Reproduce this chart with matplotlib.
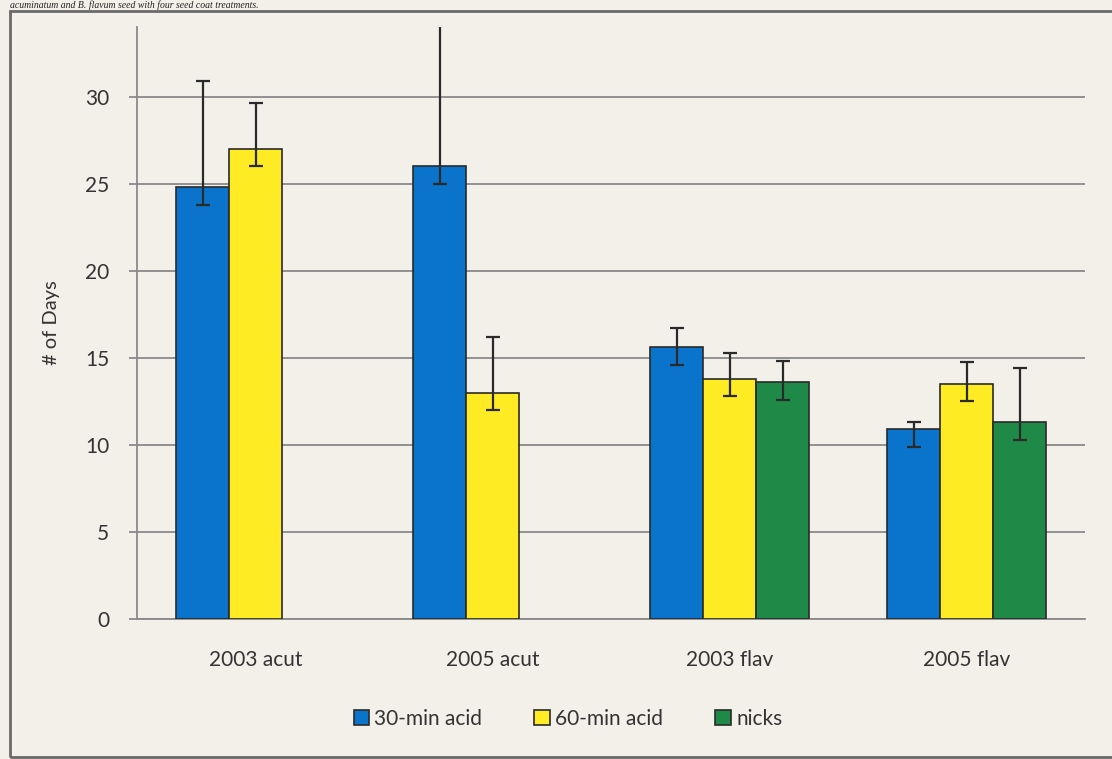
import numpy as np
from matplotlib import pyplot as plt
from matplotlib.patches import Rectangle

categories = ["2003 acut", "2005 acut", "2003 flav", "2005 flav"]
series_names = ["30-min acid", "60-min acid", "nicks"]

acid30 = [24.8, 26.0, 15.6, 10.9]
acid60 = [27.0, 13.0, 13.8, 13.5]
nicks = [np.nan, np.nan, 13.6, 11.3]

# asymmetric error bars (down, up)
acid30_err_lo = [1.0, 1.0, 1.0, 1.0]
acid30_err_hi = [6.1, 10.0, 1.1, 0.4]
acid60_err_lo = [1.0, 1.0, 1.0, 1.0]
acid60_err_hi = [2.65, 3.2, 1.5, 1.25]
nicks_err_lo = [np.nan, np.nan, 1.0, 1.0]
nicks_err_hi = [np.nan, np.nan, 1.2, 3.1]

y_ticks = [0, 5, 10, 15, 20, 25, 30]

BG = "#f3f0e9"
colors = ["#0a74cc", "#ffeb24", "#1f8a48"]
EDGE = "#2a2a2a"
GRID = "#8a8a8a"
TEXT = "#333333"

plt.rcParams["font.family"] = ["Lato", "DejaVu Sans"]

fig = plt.figure(figsize=(11.12, 7.59), dpi=100, facecolor=BG)
ax = fig.add_axes([137 / 1112, 140 / 759, (1085 - 137) / 1112, (619 - 27) / 759])
ax.set_facecolor(BG)

x = np.arange(len(categories))
width = 53 / 237
series = [
    (acid30, acid30_err_lo, acid30_err_hi),
    (acid60, acid60_err_lo, acid60_err_hi),
    (nicks, nicks_err_lo, nicks_err_hi),
]
for i, (vals, lo, hi) in enumerate(series):
    pos = x + (i - 1) * width
    ax.bar(pos, vals, width, color=colors[i], edgecolor=EDGE, linewidth=1.2,
           label=series_names[i], zorder=3)
    ax.errorbar(pos, vals, yerr=[lo, hi], fmt="none", ecolor=EDGE,
                elinewidth=1.6, capsize=5, capthick=1.6, zorder=4)

ax.set_xlim(-0.5, 3.5)
ax.set_ylim(0, 34)
ax.set_yticks(y_ticks)
ax.set_xticks(x)
ax.set_xticklabels(categories)
ax.grid(axis="y", color=GRID, linewidth=1.3, zorder=0)
for side in ["top", "right"]:
    ax.spines[side].set_visible(False)
ax.spines["left"].set_color(GRID)
ax.spines["left"].set_linewidth(1.3)
ax.spines["bottom"].set_color(GRID)
ax.spines["bottom"].set_linewidth(1.3)
ax.tick_params(axis="y", length=6, width=1.3, color=GRID, labelsize=15,
               labelcolor=TEXT, pad=14)
ax.tick_params(axis="x", length=0, labelsize=15, labelcolor=TEXT, pad=22)
ax.set_ylabel("# of Days", fontsize=14.5, color=TEXT, labelpad=18)

leg = fig.legend(loc="center", bbox_to_anchor=(568 / 1112, 1 - 719 / 759),
                 ncol=3, frameon=False, fontsize=15, handlelength=0.75,
                 handleheight=0.75, handletextpad=0.25, columnspacing=2.5)
for t in leg.get_texts():
    t.set_color(TEXT)

# outer frame of the scanned figure
fig.patches.append(Rectangle((10 / 1112, 2 / 759), 1.2, 746 / 759,
                             transform=fig.transFigure, fill=False,
                             edgecolor="#6a6a6a", linewidth=2))

# caption at the top of the scan
fig.text(10 / 1112, 1 - 0.3 / 759,
         "acuminatum and B. flavum seed with four seed coat treatments.",
         family="Liberation Serif", style="italic", fontsize=7,
         color="#222222", va="top", ha="left")

fig.savefig("out.png", dpi=100, facecolor=BG)
